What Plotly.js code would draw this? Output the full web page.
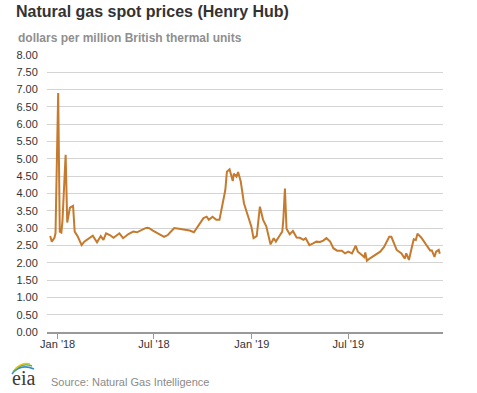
<!DOCTYPE html>
<html>
<head>
<meta charset="utf-8">
<script src="https://cdn.plot.ly/plotly-3.0.1.min.js"></script>
<style>
html,body{margin:0;padding:0;background:#fff;}
#chart{width:477px;height:393px;}
</style>
</head>
<body>
<div id="chart"></div>
<script>
// Henry Hub spot price, dollars per million Btu
const dates = [
"2017-12-18","2017-12-21","2017-12-26","2017-12-28","2017-12-29","2018-01-02","2018-01-05","2018-01-08",
"2018-01-10","2018-01-12","2018-01-16","2018-01-19","2018-01-24","2018-01-30","2018-02-02","2018-02-08",
"2018-02-15","2018-02-20","2018-02-27","2018-03-08","2018-03-16","2018-03-23","2018-03-28","2018-04-02",
"2018-04-09","2018-04-16","2018-04-27","2018-05-04","2018-05-14","2018-05-23","2018-05-30","2018-06-07",
"2018-06-15","2018-06-19","2018-06-22","2018-06-29","2018-07-09","2018-07-20","2018-07-27","2018-08-08",
"2018-08-17","2018-08-31","2018-09-06","2018-09-14","2018-09-24","2018-09-28","2018-10-02","2018-10-08",
"2018-10-12","2018-10-19","2018-10-26","2018-11-01","2018-11-06","2018-11-12","2018-11-15","2018-11-20",
"2018-11-26","2018-11-28","2018-12-03","2018-12-06","2018-12-11","2018-12-17","2018-12-24","2018-12-31",
"2019-01-04","2019-01-10","2019-01-16","2019-01-22","2019-01-28","2019-02-05","2019-02-11","2019-02-15",
"2019-02-21","2019-02-27","2019-03-01","2019-03-04","2019-03-07","2019-03-13","2019-03-19","2019-03-26",
"2019-04-01","2019-04-08","2019-04-12","2019-04-19","2019-04-26","2019-05-02","2019-05-09","2019-05-15",
"2019-05-21","2019-05-28","2019-06-03","2019-06-10","2019-06-19","2019-06-25","2019-07-01","2019-07-08",
"2019-07-15","2019-07-19","2019-07-26","2019-07-31","2019-08-02","2019-08-05","2019-08-13","2019-08-21",
"2019-08-26","2019-08-30","2019-09-06","2019-09-13","2019-09-16","2019-09-20","2019-09-24","2019-09-30",
"2019-10-09","2019-10-15","2019-10-18","2019-10-23","2019-10-28","2019-11-01","2019-11-05","2019-11-08",
"2019-11-15","2019-11-22","2019-11-26","2019-12-02","2019-12-05","2019-12-10","2019-12-13","2019-12-18",
"2019-12-20"
];
const prices = [
2.77,2.61,2.72,2.85,3.69,6.90,2.90,2.87,
3.20,4.00,5.12,3.16,3.59,3.64,2.90,2.75,
2.51,2.61,2.69,2.78,2.59,2.77,2.66,2.85,
2.80,2.72,2.85,2.71,2.83,2.90,2.88,2.95,
3.00,3.01,3.00,2.93,2.85,2.75,2.80,3.00,
2.98,2.95,2.93,2.88,3.09,3.19,3.29,3.33,
3.24,3.33,3.24,3.24,3.60,4.10,4.63,4.70,
4.36,4.57,4.49,4.62,4.35,3.72,3.38,3.04,
2.71,2.77,3.62,3.24,3.05,2.53,2.71,2.61,
2.76,2.90,3.24,4.14,2.98,2.82,2.92,2.73,
2.72,2.66,2.71,2.51,2.56,2.61,2.60,2.64,
2.71,2.61,2.42,2.35,2.35,2.27,2.32,2.27,
2.49,2.32,2.23,2.16,2.30,2.06,2.15,2.22,
2.27,2.32,2.45,2.68,2.75,2.75,2.61,2.37,
2.27,2.12,2.27,2.08,2.42,2.68,2.66,2.84,
2.73,2.58,2.47,2.35,2.36,2.17,2.32,2.37,
2.26
];
const xTickVals = ["2018-01-01","2018-07-01","2019-01-01","2019-07-01"];
const xTickText = ["Jan '18","Jul '18","Jan '19","Jul '19"];

// pixel -> paper helpers for decorations (plot area 47..443 x 55..332)
const L=47, R=443, T=55, B=332;
const px = x => (x - L) / (R - L);
const py = y => (B - y) / (B - T);
function arc(x0,y0,cx,cy,x1,y1){
  return `M ${px(x0)} ${py(y0)} Q ${px(cx)} ${py(cy)} ${px(x1)} ${py(y1)}`;
}

const trace = {
  x: dates, y: prices, type: 'scatter', mode: 'lines',
  line: {color: '#c57a2e', width: 2},
  hoverinfo: 'x+y'
};

const layout = {
  width: 477, height: 393,
  margin: {l: L, r: 477 - R, t: T, b: 393 - B},
  paper_bgcolor: '#fff', plot_bgcolor: '#fff',
  showlegend: false,
  font: {family: 'Liberation Sans, Arial, sans-serif', size: 11, color: '#333'},
  title: {
    text: '<b>Natural gas spot prices (Henry Hub)</b>',
    font: {family: 'Liberation Sans, Arial, sans-serif', size: 16, color: '#333'},
    x: 16/477, xref: 'container', xanchor: 'left',
    y: 1 - 11/393, yref: 'container', yanchor: 'middle'
  },
  xaxis: {
    type: 'date',
    range: ['2017-12-12', '2019-12-26'],
    tickmode: 'array', tickvals: xTickVals, ticktext: xTickText,
    ticks: 'outside', ticklen: 5, tickwidth: 1, tickcolor: '#999',
    ticklabelstandoff: -4,
    showgrid: false, zeroline: false,
    showline: true, linecolor: '#999', linewidth: 2,
    tickfont: {size: 11, color: '#333'},
    fixedrange: true
  },
  yaxis: {
    range: [0, 8], dtick: 0.5, tick0: 0, tickformat: '.2f',
    showgrid: true, gridcolor: '#d4d4d4', gridwidth: 1,
    zeroline: false, showline: false,
    ticks: 'outside', ticklen: 6, tickcolor: 'rgba(0,0,0,0)',
    tickfont: {size: 11, color: '#333'},
    fixedrange: true
  },
  annotations: [
    {text: '<b>dollars per million British thermal units</b>', xref: 'paper', yref: 'paper',
     x: px(16), y: py(38), xanchor: 'left', yanchor: 'middle', showarrow: false,
     font: {family: 'Liberation Sans, Arial, sans-serif', size: 12, color: '#8f8f8f'}},
    {text: 'Source: Natural Gas Intelligence', xref: 'paper', yref: 'paper',
     x: px(49), y: py(382), xanchor: 'left', yanchor: 'middle', showarrow: false,
     font: {family: 'Liberation Sans, Arial, sans-serif', size: 11, color: '#8a8a8a'}},
    {text: 'eia', xref: 'paper', yref: 'paper',
     x: px(23), y: py(378), xanchor: 'center', yanchor: 'middle', showarrow: false,
     font: {family: 'Liberation Serif, DejaVu Serif, serif', size: 20, color: '#3a3a3a'}}
  ],
  shapes: [
    {type: 'path', xref: 'paper', yref: 'paper', path: arc(12,374,20,363,34,369), line: {color: '#2f8fd0', width: 1.5}},
    {type: 'path', xref: 'paper', yref: 'paper', path: arc(13,372,21,362,32,366), line: {color: '#5bb04a', width: 1.5}},
    {type: 'path', xref: 'paper', yref: 'paper', path: arc(15,369,22,362,30,364), line: {color: '#f2c21b', width: 1.5}}
  ]
};

Plotly.newPlot('chart', [trace], layout, {displayModeBar: false, staticPlot: true});
</script>
</body>
</html>
